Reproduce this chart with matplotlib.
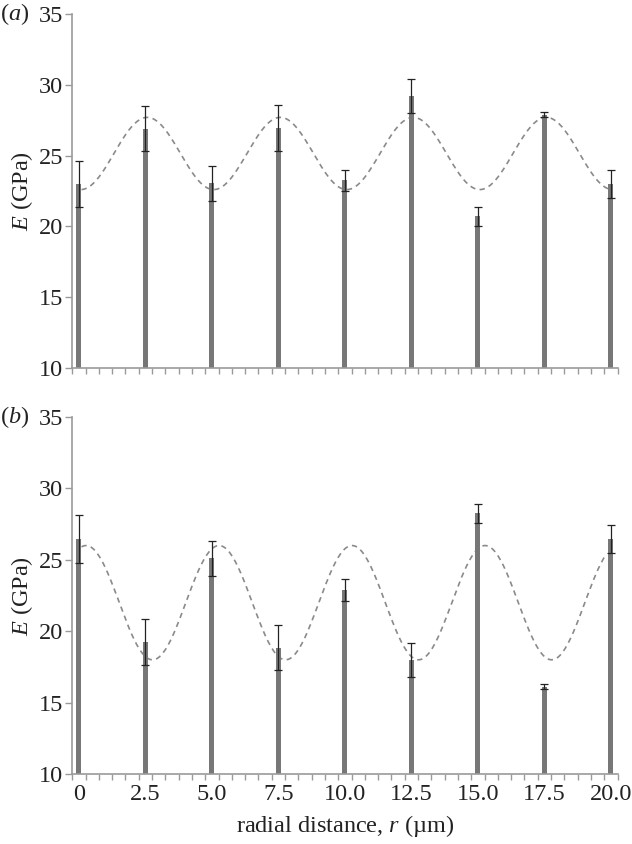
import numpy as np
import matplotlib
matplotlib.use("Agg")
import matplotlib.pyplot as plt

plt.rcParams['font.family'] = ['Liberation Serif', 'DejaVu Serif']
plt.rcParams['mathtext.fontset'] = 'custom'
plt.rcParams['mathtext.rm'] = 'Liberation Serif'
plt.rcParams['mathtext.it'] = 'Liberation Serif:italic'

# ---- data ----
radial_distance = [0, 2.5, 5.0, 7.5, 10.0, 12.5, 15.0, 17.5, 20.0]
tick_labels = ["0", "2.5", "5.0", "7.5", "10.0", "12.5", "15.0", "17.5", "20.0"]

E_a = [23.0, 26.9, 23.05, 26.95, 23.25, 29.2, 20.73, 27.9, 23.0]
err_a = [1.65, 1.6, 1.25, 1.6, 0.75, 1.2, 0.67, 0.2, 1.0]

E_b = [26.45, 19.23, 25.12, 18.86, 22.87, 17.97, 28.27, 16.12, 26.45]
err_b = [1.67, 1.62, 1.23, 1.6, 0.78, 1.21, 0.67, 0.2, 0.97]

# dashed model curves (sinusoid, period 5 um): mean, amplitude, phase of peak, x range
model_a = dict(mean=25.15, amp=-2.55, phase=0.07, x0=0.1, x1=20.0)
model_b = dict(mean=22.0, amp=4.0, phase=0.27, x0=0.1, x1=19.82)
period = 5.0

FS = 17.5

fig = plt.figure(figsize=(6.32, 8.44), dpi=100)
ax_a = fig.add_axes([0.1134, 0.564, 0.8646, 0.4194])
ax_b = fig.add_axes([0.1134, 0.0829, 0.8646, 0.4230])

bar_color = '#777777'
spine_color = '#9a9a9a'
text_color = '#222222'

def draw(ax, E, err, model, label, show_xlabels):
    ax.bar(radial_distance, E, width=0.19, bottom=0, color=bar_color, zorder=2)
    ax.errorbar(radial_distance, E, yerr=err, fmt='none', ecolor='#222222',
                elinewidth=0.9, capsize=2.8, capthick=0.9, zorder=3)
    xs = np.linspace(model['x0'], model['x1'], 400)
    ys = model['mean'] + model['amp'] * np.cos(2 * np.pi * (xs - model['phase']) / period)
    ax.plot(xs, ys, linestyle=(0, (3.2, 2.6)), color='#8a8a8a', linewidth=1.2, zorder=1)
    ax.set_xlim(-0.27, 20.27)
    ax.set_ylim(10, 35)
    ax.set_yticks([10, 15, 20, 25, 30, 35])
    ax.set_xticks(radial_distance)
    ax.set_xticks(np.arange(-0.25, 20.3, 0.5), minor=True)
    if show_xlabels:
        ax.set_xticklabels(tick_labels)
    else:
        ax.set_xticklabels([])
    for s in ['top', 'right']:
        ax.spines[s].set_visible(False)
    for s in ['left', 'bottom']:
        ax.spines[s].set_color(spine_color)
        ax.spines[s].set_linewidth(1.2)
    ax.tick_params(axis='x', which='major', length=0, pad=7, labelsize=FS, colors=text_color)
    ax.tick_params(axis='x', which='minor', length=4, width=1.0, direction='out', color=spine_color)
    ax.tick_params(axis='y', which='major', length=5, width=1.0, direction='out',
                   color=spine_color, labelsize=FS, labelcolor=text_color, pad=1)
    ax.set_ylabel(r'$E$ (GPa)', fontsize=FS, color=text_color, labelpad=3)
    fig.text(0.0, ax.get_position().y1, label, fontsize=FS, color=text_color,
             ha='left', va='center')

draw(ax_a, E_a, err_a, model_a, r'($a$)', False)
draw(ax_b, E_b, err_b, model_b, r'($b$)', True)
ax_b.set_xlabel(r'radial distance, $r$ (µm)', fontsize=FS, color=text_color, labelpad=6)

fig.savefig('out.png', dpi=100)
